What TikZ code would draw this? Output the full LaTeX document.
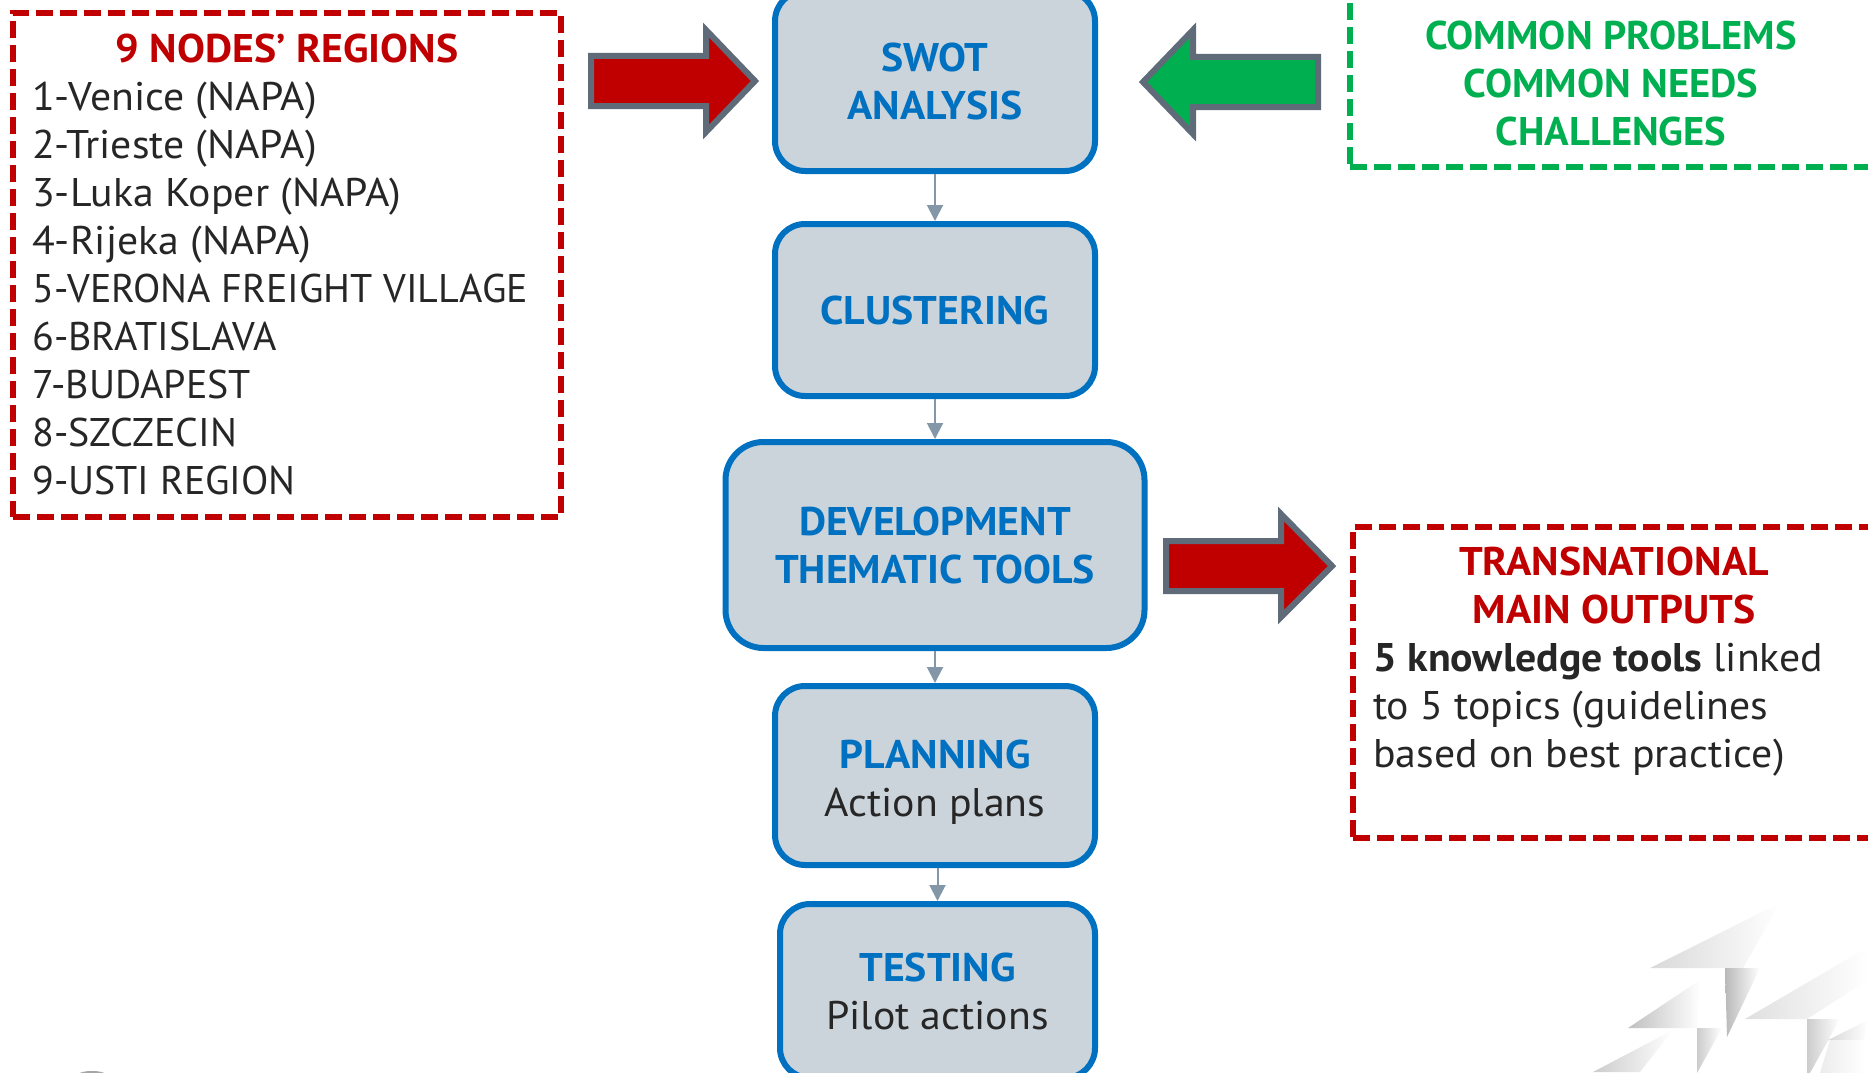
\documentclass[tikz,border=0pt]{standalone}
\usepackage{fontspec}
\setmainfont[FakeStretch=1.045,BoldFeatures={FakeStretch=1.045}]{PT Sans}
\newfontfamily\capsfont{PT Sans}
\newfontfamily\commonfont[FakeStretch=1.015]{PT Sans}
\usetikzlibrary{arrows.meta}
\definecolor{flowblue}{HTML}{0070C0}
\definecolor{boxgrey}{HTML}{CBD3DB}
\definecolor{darkred}{HTML}{C00000}
\definecolor{leafgreen}{HTML}{00B050}
\definecolor{slate}{HTML}{5F6B78}
\definecolor{linkgrey}{HTML}{8497A8}
\definecolor{inkgrey}{HTML}{262626}
\tikzset{
	textsize/.style={font=\fontsize{40}{48}\selectfont},
	stagebox/.style={draw=flowblue, fill=boxgrey, line width=6pt, rounded corners=30pt, align=center, text=flowblue, textsize, inner sep=0pt},
	dashbox/.style={draw=#1, line width=6pt, dash pattern=on 17pt off 7pt, minimum width=550pt, inner sep=0pt},
	bighead/.style={fill=#1, draw=slate, line width=6pt, miter limit=10},
	flowlink/.style={draw=linkgrey, line width=2pt, -{Triangle[width=16pt,length=16pt]}},
	faded/.style 2 args={shade, shading angle=#1, left color=#2, right color=white, draw=none},
}
\begin{document}
\begin{tikzpicture}[x=1pt,y=-1pt]
	\useasboundingbox (0,0) rectangle (1868,1073);
	\clip (0,0) rectangle (1868,1073);

	\path[faded={90}{gray!30}] (1650,968) -- (1780,903) -- (1743,968) -- cycle;
	\path[faded={0}{gray!55}] (1725,968) -- (1760,968) -- (1727,1037) -- cycle;
	\path[faded={135}{gray!50}] (1628,1028) -- (1700,980) -- (1697,1028) -- cycle;
	\path[faded={0}{gray!40}] (1697,1028) -- (1722,1028) -- (1697,1073) -- cycle;
	\path[faded={90}{gray!40}] (1593,1072) -- (1673,1030) -- (1640,1072) -- cycle;
	\path[faded={90}{gray!25}] (1745,1019) -- (1868,947) -- (1868,980) -- (1807,1019) -- cycle;
	\path[faded={0}{gray!40}] (1807,1019) -- (1840,1019) -- (1810,1073) -- (1807,1073) -- cycle;
	\path[faded={90}{gray!30}] (1828,1040) -- (1868,1020) -- (1864,1040) -- cycle;
	\path[faded={180}{gray!15}] (1830,1040) -- (1864,1040) -- (1864,1073) -- (1820,1073) -- cycle;
	\fill[gray!70] (92,1074) ellipse (13 and 3);

	\node[stagebox, minimum width=320pt, minimum height=180pt] (swot) at (935,81) {\textbf{SWOT}\\\textbf{ANALYSIS}};
	\node[stagebox, minimum width=320pt, minimum height=172pt] (clustering) at (935,310) {\textbf{CLUSTERING}};
	\node[stagebox, minimum width=419pt, minimum height=206pt, rounded corners=38pt] (development) at (935,545) {\textbf{DEVELOPMENT}\\\textbf{THEMATIC TOOLS}};
	\node[stagebox, minimum width=320pt, minimum height=179pt] (planning) at (935,775.5) {\rule{0pt}{42pt}\textbf{PLANNING}\\\textcolor{inkgrey}{Action plans}};
	\node[stagebox, minimum width=315pt, minimum height=174pt] (testing) at (937.5,991) {\textbf{TESTING}\\\textcolor{inkgrey}{Pilot actions}};

	\draw[flowlink] (swot) -- (clustering);
	\draw[flowlink] (clustering) -- (development);
	\draw[flowlink] (development) -- (planning);
	\draw[flowlink] (planning.south -| testing.north) -- (testing.north);

	\node[dashbox=darkred, minimum width=548pt, minimum height=504pt] (regionbox) at (287,265) {};
	\node[textsize, text=darkred] (regiontitle) at (287,49) {\textbf{9 NODES’ REGIONS}};
	\node[textsize, text=inkgrey, align=left, anchor=north west, inner sep=0pt] (regionlist) at (32,82) {1-Venice (NAPA)\\2-Trieste (NAPA)\\3-Luka Koper (NAPA)\\4-Rijeka (NAPA)\\{\capsfont 5-VERONA FREIGHT VILLAGE}\\{\capsfont 6-BRATISLAVA}\\{\capsfont 7-BUDAPEST}\\{\capsfont 8-SZCZECIN}\\{\capsfont 9-USTI REGION}};

	\node[dashbox=leafgreen, minimum height=192pt, anchor=north west] (commonbox) at (1347,-28) {};
	\node[textsize, text=leafgreen, align=center, font=\fontsize{40}{48}\commonfont] (commontext) at (1611,83) {\textbf{COMMON PROBLEMS}\\\textbf{COMMON NEEDS}\\\textbf{CHALLENGES}};

	\node[dashbox=darkred, minimum height=311pt, anchor=north west] (outputbox) at (1350,524) {};
	\node[textsize, text=darkred, align=center] (outputtitle) at (1614,585) {\textbf{TRANSNATIONAL}\\\textbf{MAIN OUTPUTS}};
	\node[textsize, text=inkgrey, align=left, anchor=north west, inner sep=0pt] (outputtext) at (1373,643) {\textbf{5 knowledge tools} linked\\to 5 topics (guidelines\\based on best practice)};

	\draw[bighead=darkred] (591,56) -- (706,56) -- (706,30) -- (755,81) -- (706,132) -- (706,106) -- (591,106) -- cycle;
	\draw[bighead=leafgreen] (1318,57) -- (1193,57) -- (1193,30) -- (1143,82) -- (1193,134) -- (1193,107) -- (1318,107) -- cycle;
	\draw[bighead=darkred] (1166,541) -- (1281,541) -- (1281,514) -- (1332,566) -- (1281,617) -- (1281,591) -- (1166,591) -- cycle;
\end{tikzpicture}
\end{document}
